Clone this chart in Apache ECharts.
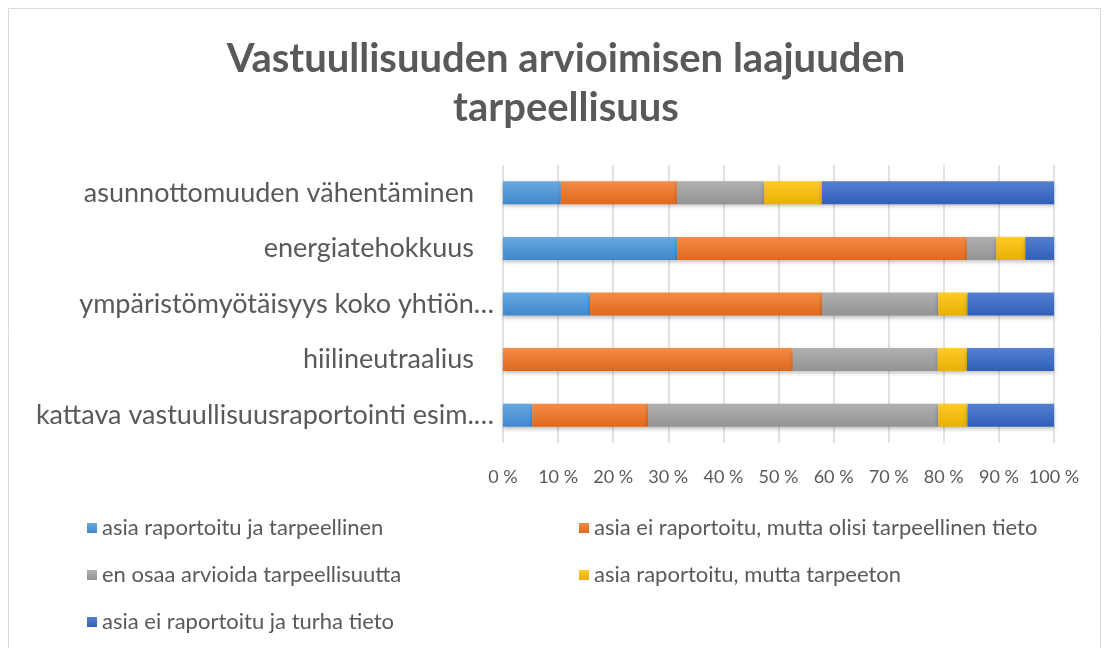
<!DOCTYPE html>
<html>
<head>
<meta charset="utf-8">
<script src="https://cdn.jsdelivr.net/npm/echarts@6/dist/echarts.min.js"></script>
<style>
  html, body { margin: 0; padding: 0; background: #fff; }
  #chart { width: 1109px; height: 648px; }
</style>
</head>
<body>
<div id="chart"></div>
<script>
// categories, top to bottom
const categories = [
  'asunnottomuuden vähentäminen',
  'energiatehokkuus',
  'ympäristömyötäisyys koko yhtiön…',
  'hiilineutraalius',
  'kattava vastuullisuusraportointi esim.…'
]
const seriesNames = [
  'asia raportoitu ja tarpeellinen',
  'asia ei raportoitu, mutta olisi tarpeellinen tieto',
  'en osaa arvioida tarpeellisuutta',
  'asia raportoitu, mutta tarpeeton',
  'asia ei raportoitu ja turha tieto'
]
// shares in percent
const reportedNeeded   = [10.5, 31.6, 15.8, 0, 5.3]
const notReportedNeeded = [21.1, 52.6, 42.1, 52.6, 21.1]
const cannotSay        = [15.8, 5.3, 21.1, 26.3, 52.6]
const reportedUseless  = [10.5, 5.3, 5.3, 5.3, 5.3]
const notReportedUseless = [42.1, 5.3, 15.8, 15.8, 15.8]
const xTicks = [0, 10, 20, 30, 40, 50, 60, 70, 80, 90, 100]

const values = [reportedNeeded, notReportedNeeded, cannotSay, reportedUseless, notReportedUseless]
const colors = [
  ['#6aa8e0', '#3f87cc'],
  ['#f38c47', '#e0681a'],
  ['#b0b0b0', '#939393'],
  ['#ffca28', '#e8b000'],
  ['#5580cf', '#2f5fb9']
]

const font = 'Lato, "Open Sans", sans-serif'
const chart = echarts.init(document.getElementById('chart'))

let series = []
for (let i = 0; i < seriesNames.length; i++) {
  series.push({
    name: seriesNames[i],
    type: 'bar',
    stack: 'total',
    barWidth: 23,
    data: values[i],
    itemStyle: {
      color: new echarts.graphic.LinearGradient(0, 0, 0, 1, [
        { offset: 0, color: colors[i][0] },
        { offset: 1, color: colors[i][1] }
      ]),
      shadowColor: 'rgba(0,0,0,0.25)',
      shadowBlur: 4,
      shadowOffsetY: 2
    },
    animation: false
  })
}

const legendText = { fontFamily: font, fontSize: 22, lineHeight: 22, color: '#595959' }
const catText = { fontFamily: font, fontSize: 27, color: '#595959' }

chart.setOption({
  backgroundColor: '#fff',
  color: colors.map(c => c[1]),
  title: {
    text: 'Vastuullisuuden arvioimisen laajuuden\ntarpeellisuus',
    left: 561,
    textAlign: 'center',
    top: 30,
    textStyle: {
      fontFamily: font,
      fontSize: 40,
      fontWeight: 'bold',
      color: '#595959',
      lineHeight: 49
    }
  },
  grid: {
    left: 503,
    right: 55,
    top: 165,
    bottom: 205,
    containLabel: false
  },
  xAxis: {
    type: 'value',
    min: 0,
    max: 100,
    interval: 10,
    axisLine: { show: false },
    axisTick: { show: false },
    axisLabel: {
      formatter: v => xTicks.indexOf(v) >= 0 ? v + ' %' : '',
      fontFamily: font,
      fontSize: 18,
      color: '#595959',
      margin: 25
    },
    splitLine: { lineStyle: { color: '#d9d9d9', width: 1.5 } }
  },
  yAxis: {
    type: 'category',
    inverse: true,
    data: categories,
    axisLine: { show: false },
    axisTick: { show: false },
    axisLabel: {
      // truncated labels sit closer to the bars, like in the original
      formatter: v => v.endsWith('…') ? '{b|' + v + '}' : '{a|' + v + '}',
      margin: 9,
      rich: {
        a: Object.assign({ padding: [0, 20, 0, 0] }, catText),
        b: catText
      }
    }
  },
  legend: [
    {
      data: [seriesNames[0], seriesNames[2], seriesNames[4]],
      orient: 'vertical',
      left: 82,
      top: 512,
      itemWidth: 10,
      itemHeight: 10,
      itemGap: 25,
      icon: 'rect',
      textStyle: legendText
    },
    {
      data: [seriesNames[1], seriesNames[3]],
      orient: 'vertical',
      left: 574,
      top: 512,
      itemWidth: 10,
      itemHeight: 10,
      itemGap: 25,
      icon: 'rect',
      textStyle: legendText
    }
  ],
  graphic: [{
    type: 'rect',
    shape: { x: 8.5, y: 8.5, width: 1092, height: 660 },
    style: { fill: 'none', stroke: '#d9d9d9', lineWidth: 1 },
    silent: true
  }],
  series: series
})
</script>
</body>
</html>
